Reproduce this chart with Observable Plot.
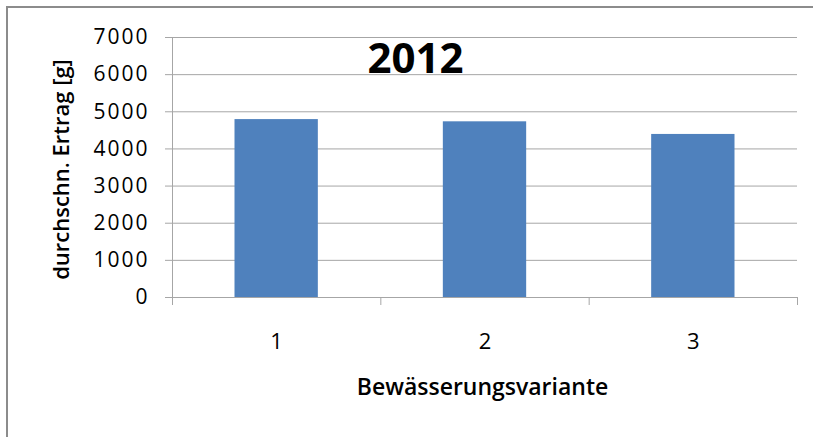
<!DOCTYPE html>
<html>
<head>
<meta charset="utf-8">
<script src="https://cdn.jsdelivr.net/npm/d3@7"></script>
<script src="https://cdn.jsdelivr.net/npm/@observablehq/plot@0.6"></script>
<style>
  html, body { margin: 0; padding: 0; background: #fff; }
  #wrap { position: relative; width: 813px; height: 437px; overflow: hidden; }
  #border { position: absolute; left: 6px; top: 6px; width: 900px; height: 500px;
            border-top: 2px solid #8c8c8c; border-left: 2px solid #8c8c8c; }
  #chart { position: absolute; left: 0; top: 0; }
  g[aria-label="y-axis tick label"] text { letter-spacing: 2px; }
</style>
</head>
<body>
<div id="wrap"><div id="border"></div><div id="chart"></div></div>
<script>
const categories = [1, 2, 3];
const values = [4790, 4730, 4390];
const yTicks = [0, 1000, 2000, 3000, 4000, 5000, 6000, 7000];
const categoryBounds = [0.5, 1.5, 2.5, 3.5];
const title = "2012";
const yLabel = "durchschn. Ertrag [g]";
const xLabel = "Bewässerungsvariante";

const data = categories.map((c, i) => ({cat: c, value: values[i]}));
const gray = "#a6a6a6";

const chart = Plot.plot({
  width: 813,
  height: 437,
  marginLeft: 172,
  marginRight: 16,
  marginTop: 37,
  marginBottom: 140,
  style: {fontFamily: "'Open Sans', sans-serif", background: "transparent", overflow: "visible"},
  x: {domain: [0.5, 3.5]},
  y: {domain: [0, 7000]},
  marks: [
    Plot.gridY(yTicks, {stroke: gray, strokeOpacity: 1}),
    Plot.rectY(data, {x1: d => d.cat - 0.2, x2: d => d.cat + 0.2, y: "value", fill: "#4f81bd"}),
    Plot.ruleX([0.5], {stroke: gray}),
    Plot.axisY(yTicks, {tickSize: 7, tickFormat: () => "", color: gray, label: null}),
    Plot.axisY(yTicks, {tickSize: 0, tickPadding: 23, tickFormat: d => String(d), color: "#000", fontSize: 21, label: null}),
    Plot.axisX(categoryBounds, {tickSize: 8, tickFormat: () => "", color: gray, label: null}),
    Plot.axisX(categories, {tickSize: 0, tickPadding: 36, tickFormat: d => String(d), color: "#000", fontSize: 22, label: null}),
    Plot.text([title], {text: d => d, frameAnchor: "top", lineAnchor: "top", dx: -69.5, dy: 6, fontSize: 42, fontWeight: "bold", fill: "#000"}),
    Plot.text([yLabel], {text: d => d, frameAnchor: "left", textAnchor: "middle", rotate: -90, dx: -111, dy: 2, fontSize: 22, fontWeight: 600, fill: "#000"}),
    Plot.text([xLabel], {text: d => d, frameAnchor: "bottom", dx: -2.5, dy: 97, fontSize: 23, fontWeight: 600, fill: "#000"})
  ]
});
document.getElementById("chart").appendChild(chart);
</script>
</body>
</html>
